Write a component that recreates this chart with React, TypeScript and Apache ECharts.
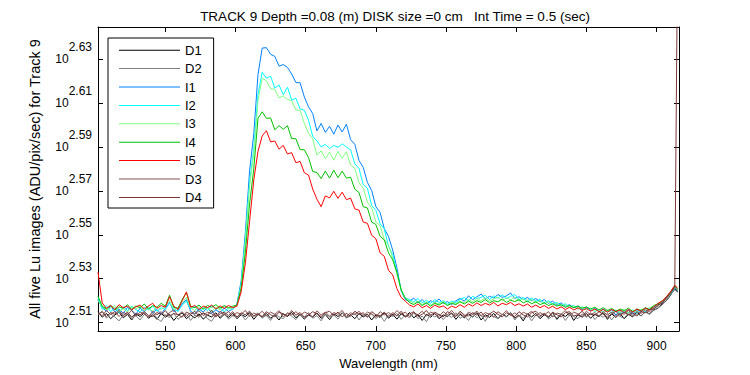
import React, { useEffect, useRef } from 'react';
import * as echarts from 'echarts';

const TITLE = 'TRACK 9 Depth =0.08 (m) DISK size =0 cm   Int Time = 0.5 (sec)';
const X_NAME = 'Wavelength (nm)';
const Y_NAME = 'All five Lu images (ADU/pix/sec) for Track 9';

const X_TICKS = [550, 600, 650, 700, 750, 800, 850, 900];
const Y_TICKS = [2.51, 2.53, 2.55, 2.57, 2.59, 2.61, 2.63];

const WAVELENGTH = [
  502, 505, 508, 511, 514, 517, 520, 523, 526, 529,
  532, 535, 538, 541, 544, 547, 550, 553, 556, 559,
  562, 565, 568, 571, 574, 577, 580, 583, 586, 589,
  592, 595, 598, 601, 604, 607, 610, 613, 616, 619,
  622, 625, 628, 631, 634, 637, 640, 643, 646, 649,
  652, 655, 658, 661, 664, 667, 670, 673, 676, 679,
  682, 685, 688, 691, 694, 697, 700, 703, 706, 709,
  712, 715, 718, 721, 724, 727, 730, 733, 736, 739,
  742, 745, 748, 751, 754, 757, 760, 763, 766, 769,
  772, 775, 778, 781, 784, 787, 790, 793, 796, 799,
  802, 805, 808, 811, 814, 817, 820, 823, 826, 829,
  832, 835, 838, 841, 844, 847, 850, 853, 856, 859,
  862, 865, 868, 871, 874, 877, 880, 883, 886, 889,
  892, 895, 898, 901, 904, 907, 910, 913, 915,
];

// log10 of ADU/pix/sec
const D1 = [
  2.5150, 2.5125, 2.5142, 2.5118, 2.5135, 2.5148, 2.5122, 2.5138, 2.5112, 2.5140,
  2.5128, 2.5145, 2.5120, 2.5136, 2.5115, 2.5142, 2.5125, 2.5138, 2.5110, 2.5132,
  2.5145, 2.5118, 2.5135, 2.5122, 2.5140, 2.5116, 2.5134, 2.5126, 2.5145, 2.5120,
  2.5138, 2.5124, 2.5142, 2.5118, 2.5136, 2.5128, 2.5145, 2.5115, 2.5138, 2.5125,
  2.5142, 2.5120, 2.5135, 2.5112, 2.5140, 2.5128, 2.5146, 2.5122, 2.5138, 2.5116,
  2.5135, 2.5126, 2.5144, 2.5120, 2.5137, 2.5114, 2.5140, 2.5128, 2.5145, 2.5122,
  2.5136, 2.5118, 2.5142, 2.5126, 2.5138, 2.5112, 2.5135, 2.5124, 2.5145, 2.5120,
  2.5138, 2.5116, 2.5140, 2.5128, 2.5146, 2.5122, 2.5136, 2.5110, 2.5138, 2.5125,
  2.5142, 2.5118, 2.5135, 2.5128, 2.5144, 2.5115, 2.5138, 2.5122, 2.5140, 2.5126,
  2.5145, 2.5112, 2.5136, 2.5124, 2.5142, 2.5118, 2.5138, 2.5128, 2.5145, 2.5120,
  2.5135, 2.5108, 2.5140, 2.5126, 2.5142, 2.5118, 2.5136, 2.5124, 2.5146, 2.5115,
  2.5138, 2.5128, 2.5144, 2.5110, 2.5136, 2.5125, 2.5142, 2.5120, 2.5138, 2.5128,
  2.5146, 2.5115, 2.5140, 2.5124, 2.5142, 2.5118, 2.5138, 2.5126, 2.5148, 2.5130,
  2.5150, 2.5140, 2.5158, 2.5165, 2.5185, 2.5200, 2.5225, 2.5255, 2.5240,
];

const D2 = [
  2.5138, 2.5152, 2.5120, 2.5140, 2.5126, 2.5108, 2.5135, 2.5145, 2.5118, 2.5132,
  2.5112, 2.5138, 2.5125, 2.5146, 2.5120, 2.5105, 2.5136, 2.5122, 2.5142, 2.5115,
  2.5130, 2.5140, 2.5110, 2.5135, 2.5124, 2.5144, 2.5118, 2.5106, 2.5138, 2.5128,
  2.5143, 2.5116, 2.5132, 2.5125, 2.5140, 2.5112, 2.5136, 2.5128, 2.5145, 2.5120,
  2.5134, 2.5110, 2.5140, 2.5126, 2.5118, 2.5142, 2.5130, 2.5114, 2.5138, 2.5124,
  2.5146, 2.5120, 2.5132, 2.5108, 2.5140, 2.5126, 2.5135, 2.5116, 2.5144, 2.5122,
  2.5130, 2.5145, 2.5112, 2.5138, 2.5124, 2.5140, 2.5118, 2.5134, 2.5106, 2.5136,
  2.5128, 2.5142, 2.5115, 2.5135, 2.5122, 2.5146, 2.5118, 2.5130, 2.5104, 2.5138,
  2.5126, 2.5140, 2.5114, 2.5136, 2.5124, 2.5145, 2.5120, 2.5132, 2.5110, 2.5140,
  2.5122, 2.5136, 2.5106, 2.5142, 2.5128, 2.5118, 2.5138, 2.5125, 2.5145, 2.5112,
  2.5134, 2.5120, 2.5140, 2.5108, 2.5136, 2.5126, 2.5144, 2.5116, 2.5132, 2.5122,
  2.5142, 2.5110, 2.5136, 2.5128, 2.5118, 2.5140, 2.5124, 2.5146, 2.5114, 2.5135,
  2.5125, 2.5142, 2.5112, 2.5138, 2.5128, 2.5120, 2.5145, 2.5126, 2.5140, 2.5132,
  2.5148, 2.5138, 2.5155, 2.5168, 2.5180, 2.5202, 2.5228, 2.5250, 2.5238,
];

const I1 = [
  2.5205, 2.5168, 2.5152, 2.5175, 2.5149, 2.5163, 2.5141, 2.5170, 2.5156, 2.5138,
  2.5166, 2.5150, 2.5172, 2.5145, 2.5160, 2.5139, 2.5165, 2.5192, 2.5150, 2.5158,
  2.5185, 2.5205, 2.5152, 2.5140, 2.5163, 2.5148, 2.5170, 2.5143, 2.5158, 2.5146,
  2.5167, 2.5151, 2.5162, 2.5185, 2.5290, 2.5510, 2.5790, 2.5960, 2.6230, 2.6350,
  2.6352, 2.6322, 2.6312, 2.6268, 2.6275, 2.6262, 2.6232, 2.6193, 2.6192, 2.6128,
  2.6083, 2.6052, 2.5973, 2.6007, 2.5966, 2.5994, 2.5958, 2.6000, 2.5968, 2.6004,
  2.5933, 2.5912, 2.5838, 2.5807, 2.5738, 2.5702, 2.5628, 2.5602, 2.5528, 2.5492,
  2.5430, 2.5350, 2.5245, 2.5205, 2.5198, 2.5212, 2.5190, 2.5205, 2.5185, 2.5200,
  2.5192, 2.5208, 2.5188, 2.5196, 2.5182, 2.5200, 2.5210, 2.5198, 2.5222, 2.5205,
  2.5218, 2.5230, 2.5208, 2.5220, 2.5212, 2.5228, 2.5215, 2.5222, 2.5235, 2.5210,
  2.5218, 2.5205, 2.5215, 2.5200, 2.5210, 2.5195, 2.5205, 2.5188, 2.5198, 2.5180,
  2.5190, 2.5175, 2.5182, 2.5168, 2.5176, 2.5160, 2.5170, 2.5155, 2.5165, 2.5150,
  2.5162, 2.5148, 2.5158, 2.5135, 2.5155, 2.5145, 2.5160, 2.5140, 2.5158, 2.5150,
  2.5165, 2.5158, 2.5172, 2.5180, 2.5195, 2.5212, 2.5235, 2.5262, 2.5250,
];

const I2 = [
  2.5215, 2.5160, 2.5178, 2.5150, 2.5168, 2.5145, 2.5172, 2.5155, 2.5175, 2.5160,
  2.5148, 2.5170, 2.5158, 2.5176, 2.5152, 2.5168, 2.5160, 2.5188, 2.5165, 2.5150,
  2.5180, 2.5198, 2.5162, 2.5175, 2.5150, 2.5170, 2.5155, 2.5178, 2.5160, 2.5172,
  2.5148, 2.5168, 2.5160, 2.5182, 2.5275, 2.5480, 2.5740, 2.5890, 2.6140, 2.6240,
  2.6213, 2.6222, 2.6168, 2.6182, 2.6138, 2.6172, 2.6113, 2.6122, 2.6073, 2.6067,
  2.6022, 2.5948, 2.5927, 2.5900, 2.5912, 2.5893, 2.5907, 2.5898, 2.5914, 2.5900,
  2.5887, 2.5823, 2.5802, 2.5728, 2.5712, 2.5633, 2.5612, 2.5550, 2.5527, 2.5448,
  2.5410, 2.5330, 2.5250, 2.5212, 2.5205, 2.5195, 2.5210, 2.5190, 2.5202, 2.5188,
  2.5205, 2.5192, 2.5200, 2.5185, 2.5198, 2.5192, 2.5205, 2.5215, 2.5200, 2.5220,
  2.5210, 2.5215, 2.5225, 2.5205, 2.5222, 2.5212, 2.5226, 2.5210, 2.5220, 2.5228,
  2.5205, 2.5215, 2.5200, 2.5212, 2.5198, 2.5206, 2.5190, 2.5200, 2.5185, 2.5192,
  2.5178, 2.5186, 2.5170, 2.5178, 2.5162, 2.5172, 2.5158, 2.5166, 2.5150, 2.5160,
  2.5148, 2.5156, 2.5142, 2.5158, 2.5140, 2.5152, 2.5145, 2.5158, 2.5142, 2.5160,
  2.5150, 2.5166, 2.5168, 2.5185, 2.5190, 2.5215, 2.5230, 2.5258, 2.5245,
];

const I3 = [
  2.5200, 2.5172, 2.5158, 2.5166, 2.5178, 2.5150, 2.5165, 2.5148, 2.5170, 2.5162,
  2.5175, 2.5155, 2.5168, 2.5150, 2.5172, 2.5160, 2.5178, 2.5200, 2.5158, 2.5170,
  2.5192, 2.5215, 2.5168, 2.5155, 2.5172, 2.5160, 2.5168, 2.5152, 2.5170, 2.5158,
  2.5175, 2.5162, 2.5168, 2.5178, 2.5268, 2.5470, 2.5720, 2.5870, 2.6110, 2.6212,
  2.6202, 2.6166, 2.6162, 2.6123, 2.6132, 2.6116, 2.6110, 2.6068, 2.6067, 2.6008,
  2.5963, 2.5937, 2.5863, 2.5882, 2.5846, 2.5877, 2.5840, 2.5880, 2.5848, 2.5878,
  2.5818, 2.5802, 2.5736, 2.5712, 2.5648, 2.5622, 2.5558, 2.5542, 2.5478, 2.5452,
  2.5395, 2.5320, 2.5248, 2.5210, 2.5200, 2.5188, 2.5198, 2.5182, 2.5195, 2.5180,
  2.5192, 2.5185, 2.5196, 2.5180, 2.5192, 2.5186, 2.5198, 2.5190, 2.5206, 2.5195,
  2.5210, 2.5200, 2.5212, 2.5198, 2.5208, 2.5215, 2.5200, 2.5212, 2.5205, 2.5215,
  2.5198, 2.5208, 2.5195, 2.5205, 2.5190, 2.5200, 2.5186, 2.5195, 2.5180, 2.5188,
  2.5175, 2.5182, 2.5168, 2.5175, 2.5162, 2.5170, 2.5158, 2.5165, 2.5152, 2.5160,
  2.5146, 2.5158, 2.5145, 2.5155, 2.5148, 2.5160, 2.5142, 2.5155, 2.5148, 2.5162,
  2.5155, 2.5168, 2.5175, 2.5182, 2.5198, 2.5210, 2.5238, 2.5265, 2.5252,
];

const I4 = [
  2.5220, 2.5175, 2.5162, 2.5180, 2.5158, 2.5172, 2.5165, 2.5182, 2.5160, 2.5176,
  2.5168, 2.5185, 2.5162, 2.5178, 2.5170, 2.5188, 2.5175, 2.5225, 2.5170, 2.5165,
  2.5205, 2.5238, 2.5175, 2.5168, 2.5180, 2.5162, 2.5178, 2.5170, 2.5182, 2.5165,
  2.5178, 2.5168, 2.5175, 2.5180, 2.5255, 2.5420, 2.5640, 2.5800, 2.6030, 2.6060,
  2.6030, 2.6032, 2.5978, 2.5997, 2.5980, 2.5997, 2.5938, 2.5937, 2.5888, 2.5887,
  2.5852, 2.5788, 2.5784, 2.5756, 2.5790, 2.5758, 2.5794, 2.5760, 2.5790, 2.5758,
  2.5762, 2.5708, 2.5692, 2.5628, 2.5622, 2.5558, 2.5547, 2.5493, 2.5477, 2.5418,
  2.5386, 2.5330, 2.5250, 2.5210, 2.5192, 2.5182, 2.5195, 2.5178, 2.5190, 2.5175,
  2.5188, 2.5180, 2.5192, 2.5178, 2.5188, 2.5182, 2.5195, 2.5185, 2.5198, 2.5188,
  2.5200, 2.5192, 2.5205, 2.5190, 2.5200, 2.5195, 2.5208, 2.5192, 2.5202, 2.5196,
  2.5205, 2.5190, 2.5198, 2.5186, 2.5195, 2.5182, 2.5190, 2.5178, 2.5186, 2.5175,
  2.5182, 2.5170, 2.5178, 2.5168, 2.5176, 2.5165, 2.5172, 2.5162, 2.5170, 2.5158,
  2.5168, 2.5155, 2.5165, 2.5152, 2.5162, 2.5155, 2.5166, 2.5150, 2.5162, 2.5155,
  2.5168, 2.5160, 2.5178, 2.5185, 2.5200, 2.5215, 2.5240, 2.5268, 2.5255,
];

const I5 = [
  2.5330, 2.5190, 2.5165, 2.5178, 2.5160, 2.5182, 2.5168, 2.5175, 2.5158, 2.5172,
  2.5180, 2.5162, 2.5176, 2.5188, 2.5165, 2.5178, 2.5170, 2.5218, 2.5175, 2.5160,
  2.5200, 2.5240, 2.5170, 2.5178, 2.5160, 2.5175, 2.5168, 2.5180, 2.5162, 2.5176,
  2.5165, 2.5178, 2.5168, 2.5175, 2.5240, 2.5370, 2.5560, 2.5750, 2.5880, 2.5950,
  2.5974, 2.5923, 2.5927, 2.5890, 2.5907, 2.5868, 2.5874, 2.5828, 2.5834, 2.5783,
  2.5772, 2.5708, 2.5662, 2.5628, 2.5677, 2.5668, 2.5698, 2.5666, 2.5694, 2.5660,
  2.5667, 2.5618, 2.5612, 2.5558, 2.5552, 2.5498, 2.5482, 2.5418, 2.5402, 2.5338,
  2.5317, 2.5255, 2.5215, 2.5198, 2.5180, 2.5172, 2.5185, 2.5168, 2.5178, 2.5165,
  2.5180, 2.5170, 2.5176, 2.5162, 2.5175, 2.5168, 2.5182, 2.5170, 2.5185, 2.5175,
  2.5190, 2.5178, 2.5188, 2.5180, 2.5192, 2.5176, 2.5188, 2.5182, 2.5192, 2.5178,
  2.5186, 2.5175, 2.5185, 2.5170, 2.5180, 2.5168, 2.5178, 2.5165, 2.5175, 2.5162,
  2.5172, 2.5160, 2.5170, 2.5158, 2.5168, 2.5155, 2.5165, 2.5152, 2.5162, 2.5150,
  2.5160, 2.5148, 2.5160, 2.5150, 2.5158, 2.5145, 2.5160, 2.5148, 2.5162, 2.5152,
  2.5166, 2.5158, 2.5172, 2.5188, 2.5198, 2.5218, 2.5242, 2.5270, 2.5258,
];

const D3 = [
  2.5145, 2.5132, 2.5155, 2.5138, 2.5150, 2.5128, 2.5148, 2.5136, 2.5156, 2.5130,
  2.5148, 2.5140, 2.5126, 2.5152, 2.5135, 2.5150, 2.5130, 2.5146, 2.5158, 2.5134,
  2.5150, 2.5128, 2.5145, 2.5138, 2.5155, 2.5132, 2.5148, 2.5140, 2.5126, 2.5152,
  2.5136, 2.5150, 2.5130, 2.5146, 2.5138, 2.5156, 2.5128, 2.5144, 2.5135, 2.5152,
  2.5130, 2.5148, 2.5138, 2.5155, 2.5126, 2.5145, 2.5136, 2.5150, 2.5132, 2.5148,
  2.5140, 2.5126, 2.5154, 2.5135, 2.5148, 2.5130, 2.5146, 2.5138, 2.5156, 2.5128,
  2.5145, 2.5136, 2.5152, 2.5130, 2.5148, 2.5140, 2.5125, 2.5150, 2.5135, 2.5146,
  2.5132, 2.5155, 2.5138, 2.5148, 2.5128, 2.5145, 2.5136, 2.5152, 2.5130, 2.5148,
  2.5140, 2.5128, 2.5150, 2.5135, 2.5156, 2.5132, 2.5145, 2.5126, 2.5148, 2.5138,
  2.5152, 2.5130, 2.5146, 2.5138, 2.5125, 2.5150, 2.5136, 2.5155, 2.5132, 2.5145,
  2.5128, 2.5148, 2.5138, 2.5152, 2.5130, 2.5146, 2.5135, 2.5150, 2.5126, 2.5144,
  2.5138, 2.5155, 2.5132, 2.5148, 2.5140, 2.5128, 2.5152, 2.5136, 2.5146, 2.5130,
  2.5150, 2.5135, 2.5148, 2.5128, 2.5145, 2.5138, 2.5156, 2.5132, 2.5150, 2.5142,
  2.5158, 2.5150, 2.5165, 2.5175, 2.5192, 2.5210, 2.5236, 2.5260, 2.5248,
];

const D4 = [
  2.5135, 2.5150, 2.5128, 2.5146, 2.5138, 2.5156, 2.5130, 2.5148, 2.5125, 2.5142,
  2.5136, 2.5150, 2.5132, 2.5128, 2.5146, 2.5138, 2.5155, 2.5130, 2.5142, 2.5136,
  2.5125, 2.5148, 2.5138, 2.5152, 2.5130, 2.5145, 2.5134, 2.5156, 2.5128, 2.5140,
  2.5148, 2.5132, 2.5150, 2.5126, 2.5145, 2.5136, 2.5152, 2.5130, 2.5140, 2.5128,
  2.5150, 2.5136, 2.5126, 2.5148, 2.5140, 2.5130, 2.5155, 2.5134, 2.5146, 2.5125,
  2.5135, 2.5150, 2.5140, 2.5128, 2.5145, 2.5152, 2.5132, 2.5148, 2.5126, 2.5142,
  2.5130, 2.5152, 2.5138, 2.5145, 2.5126, 2.5150, 2.5136, 2.5130, 2.5148, 2.5125,
  2.5146, 2.5130, 2.5152, 2.5125, 2.5140, 2.5150, 2.5128, 2.5138, 2.5155, 2.5132,
  2.5148, 2.5136, 2.5126, 2.5150, 2.5140, 2.5128, 2.5152, 2.5135, 2.5130, 2.5146,
  2.5134, 2.5148, 2.5125, 2.5140, 2.5152, 2.5138, 2.5126, 2.5145, 2.5136, 2.5128,
  2.5150, 2.5135, 2.5126, 2.5145, 2.5152, 2.5132, 2.5140, 2.5128, 2.5148, 2.5136,
  2.5126, 2.5145, 2.5150, 2.5130, 2.5136, 2.5152, 2.5128, 2.5140, 2.5134, 2.5150,
  2.5138, 2.5125, 2.5140, 2.5152, 2.5132, 2.5148, 2.5136, 2.5145, 2.5130, 2.5150,
  2.5145, 2.5160, 2.5162, 2.5182, 2.5188, 2.5215, 2.5232, 2.5266, 2.6800,
];

const SERIES_NAMES = ['D1', 'D2', 'I1', 'I2', 'I3', 'I4', 'I5', 'D3', 'D4'];
const SERIES_VALUES = [D1, D2, I1, I2, I3, I4, I5, D3, D4];
const SERIES_COLORS = ['#000000', '#808080', '#0080ff', '#00ffff', '#80ff80', '#00c000', '#ff0000', '#8a5050', '#7a3636'];

const FONT = '"Liberation Sans", Arial, Helvetica, sans-serif';

export default function App() {
  const ref = useRef<HTMLDivElement>(null);

  useEffect(() => {
    if (!ref.current) return;
    const chart = echarts.init(ref.current, null, { renderer: 'svg' });
    const yMin = 2.5062;
    const yMax = 2.6446;
    const xMin = 502;
    const xMax = 916;
    const black = '#000';

    chart.setOption({
      animation: false,
      backgroundColor: '#ffffff',
      title: {
        text: TITLE,
        left: 390,
        top: 4,
        textAlign: 'center',
        textStyle: { fontFamily: FONT, fontSize: 13.5, fontWeight: 'normal', color: black },
      },
      legend: {
        orient: 'vertical',
        left: 108,
        top: 38,
        padding: [5.7, 12, 4.1, 11],
        icon: 'rect',
        itemWidth: 61,
        itemHeight: 1,
        itemGap: 5.4,
        borderColor: black,
        borderWidth: 1,
        borderRadius: 0,
        backgroundColor: '#ffffff',
        selectedMode: false,
        textStyle: { fontFamily: FONT, fontSize: 13, color: black },
        data: SERIES_NAMES,
      },
      grid: { left: 98, top: 27, width: 581, height: 304, outerBoundsMode: 'none' },
      xAxis: [
        {
          type: 'value',
          min: xMin,
          max: xMax,
          position: 'bottom',
          name: X_NAME,
          nameLocation: 'middle',
          nameGap: 22,
          nameTextStyle: { fontFamily: FONT, fontSize: 13, color: black },
          axisLine: { show: true, onZero: false, lineStyle: { color: black, width: 1 } },
          axisTick: { show: true, inside: true, length: 5, customValues: X_TICKS, lineStyle: { color: black } },
          axisLabel: { show: true, customValues: X_TICKS, margin: 9, fontFamily: FONT, fontSize: 12, color: black },
          splitLine: { show: false },
        },
        {
          type: 'value',
          min: xMin,
          max: xMax,
          position: 'top',
          axisLine: { show: true, onZero: false, lineStyle: { color: black, width: 1 } },
          axisTick: { show: true, inside: true, length: 5, customValues: X_TICKS, lineStyle: { color: black } },
          axisLabel: { show: false },
          splitLine: { show: false },
        },
      ],
      yAxis: [
        {
          type: 'value',
          min: yMin,
          max: yMax,
          position: 'left',
          name: Y_NAME,
          nameLocation: 'middle',
          nameRotate: 90,
          nameGap: 56,
          nameTextStyle: { fontFamily: FONT, fontSize: 14.5, color: black },
          axisLine: { show: true, onZero: false, lineStyle: { color: black, width: 1 } },
          axisTick: { show: true, inside: true, length: 5, customValues: Y_TICKS, lineStyle: { color: black } },
          axisLabel: {
            show: true,
            customValues: Y_TICKS,
            margin: 6,
            formatter: (v: number) => `{b|10}{e|${v.toFixed(2)}}`,
            rich: {
              b: { fontFamily: FONT, fontSize: 12, color: black, padding: [12, 0, 12, 0] },
              e: { fontFamily: FONT, fontSize: 12, color: black, padding: [0, 0, 24, 0] },
            },
          },
          splitLine: { show: false },
        },
        {
          type: 'value',
          min: yMin,
          max: yMax,
          position: 'right',
          axisLine: { show: true, onZero: false, lineStyle: { color: black, width: 1 } },
          axisTick: { show: true, inside: true, length: 5, customValues: Y_TICKS, lineStyle: { color: black } },
          axisLabel: { show: false },
          splitLine: { show: false },
        },
      ],
      series: SERIES_VALUES.map((vals, i) => ({
        type: 'line',
        name: SERIES_NAMES[i],
        xAxisIndex: 0,
        yAxisIndex: 0,
        data: WAVELENGTH.map((w, j) => [w, vals[j]]),
        symbol: 'none',
        showSymbol: false,
        silent: true,
        clip: true,
        color: SERIES_COLORS[i],
        lineStyle: { width: 1, color: SERIES_COLORS[i] },
        itemStyle: { color: SERIES_COLORS[i] },
      })),
    });

    return () => chart.dispose();
  }, []);

  return (
    <div
      ref={ref}
      style={{ position: 'fixed', left: 0, top: 0, width: 750, height: 375, background: '#ffffff' }}
    />
  );
}
